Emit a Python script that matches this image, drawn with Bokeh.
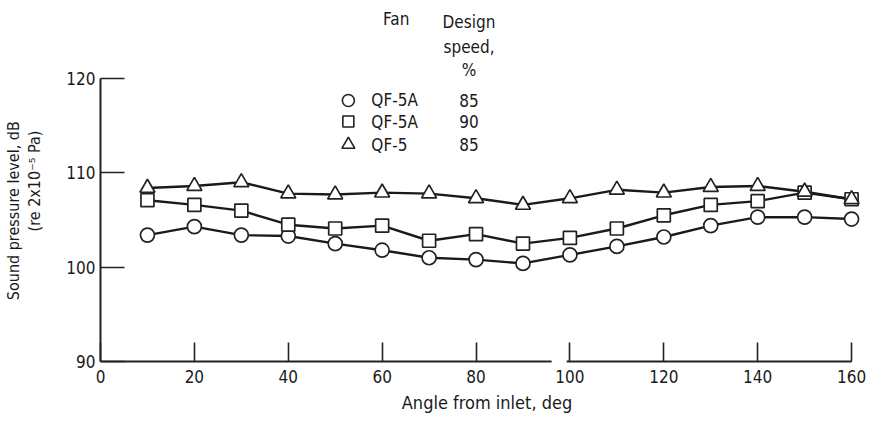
from bokeh.plotting import figure
from bokeh.models import FixedTicker, Label, Range1d, LinearAxis
from bokeh.embed import file_html
from bokeh.resources import INLINE

# ---- data ----
angles = [10, 20, 30, 40, 50, 60, 70, 80, 90, 100, 110, 120, 130, 140, 150, 160]
qf5a_85 = [103.4, 104.3, 103.4, 103.3, 102.5, 101.8, 101.0, 100.8,
           100.4, 101.3, 102.2, 103.2, 104.4, 105.3, 105.3, 105.1]
qf5a_90 = [107.1, 106.6, 106.0, 104.5, 104.1, 104.4, 102.8, 103.5,
           102.5, 103.1, 104.1, 105.5, 106.6, 107.0, 107.9, 107.2]
qf5_85 = [108.4, 108.6, 109.0, 107.8, 107.7, 107.9, 107.8, 107.3,
          106.6, 107.3, 108.2, 107.9, 108.5, 108.6, 108.0, 107.2]
x_ticks = [0, 20, 40, 60, 80, 100, 120, 140, 160]
y_ticks = [90, 100, 110, 120]
fans = ["QF-5A", "QF-5A", "QF-5"]
speeds = ["85", "90", "85"]
x_break = [96.1, 99.3]

FONT = "DejaVu Sans Condensed"
INK = "#222222"
TXT = "#1a1a1a"
NBSP = "\u00a0"

p = figure(width=873, height=421, x_range=Range1d(0, 164.67), y_range=Range1d(90, 128.27),
           output_backend="svg", toolbar_location=None,
           min_border_left=97, min_border_right=0, min_border_top=0, min_border_bottom=60)
p.outline_line_color = None
p.grid.visible = False

for ax in (p.xaxis[0], p.yaxis[0]):
    ax.axis_line_color = None
    ax.minor_tick_line_color = None
    ax.major_tick_out = 0
    ax.major_tick_line_color = INK
    ax.major_tick_line_width = 1.6
    ax.major_label_text_font = FONT
    ax.major_label_text_font_size = "17px"
    ax.major_label_text_color = TXT
    ax.axis_label_text_font = FONT
    ax.axis_label_text_font_style = "normal"
    ax.axis_label_text_color = TXT

p.xaxis.ticker = FixedTicker(ticks=x_ticks)
p.xaxis.major_tick_in = 19
p.xaxis.major_label_standoff = 8
p.xaxis.axis_label = "Angle from inlet, deg"
p.xaxis.axis_label_text_font_size = "18px"
p.xaxis.axis_label_standoff = 6

p.yaxis.ticker = FixedTicker(ticks=y_ticks)
p.yaxis.major_tick_in = 24
p.yaxis.major_label_standoff = 5
p.yaxis.axis_label = "(re 2x10\u207b\u2075 Pa)"
p.yaxis.axis_label_text_font_size = "16px"
p.yaxis.axis_label_standoff = 19

# outer line of the y-axis title; trailing non-breaking spaces shift it down along the axis
outer = LinearAxis(ticker=FixedTicker(ticks=[]), axis_line_color=None,
                   major_tick_line_color=None, minor_tick_line_color=None,
                   axis_label="Sound pressure level, dB" + NBSP * 13,
                   axis_label_text_font=FONT, axis_label_text_font_style="normal",
                   axis_label_text_font_size="16px", axis_label_text_color=TXT,
                   axis_label_standoff=0)
p.add_layout(outer, "left")

# axis lines (drawn unclipped)
p.segment(x0=[0], y0=[min(y_ticks)], x1=[0], y1=[max(y_ticks)],
          line_color=INK, line_width=2, level="annotation")
p.segment(x0=[0, x_break[1]], y0=[min(y_ticks)] * 2, x1=[x_break[0], max(x_ticks)],
          y1=[min(y_ticks)] * 2, line_color=INK, line_width=2, level="annotation")

# series
series = [(qf5a_85, "circle", 14), (qf5a_90, "square", 13), (qf5_85, "triangle", 15)]
for ys, _, _ in series:
    p.line(angles, ys, line_color=TXT, line_width=2.4)
for ys, mk, sz in series:
    p.scatter(angles, ys, marker=mk, size=sz, fill_color="white",
              line_color=INK, line_width=1.7)

# legend (manual, table-like)
lx_mark, lx_fan, lx_speed, lx_fanhead = 52.8, 57.7, 78.5, 63.0
row_y = [117.67, 115.44, 113.0]
for (ys, mk, sz), fan, spd, ry in zip(series, fans, speeds, row_y):
    p.scatter([lx_mark], [ry], marker=mk, size=sz - 2, fill_color="white",
              line_color=INK, line_width=1.6)
    p.add_layout(Label(x=lx_fan, y=ry, text=fan, text_align="left", text_baseline="middle",
                       text_font=FONT, text_font_size="17px", text_color=TXT))
    p.add_layout(Label(x=lx_speed, y=ry, text=spd, text_align="center", text_baseline="middle",
                       text_font=FONT, text_font_size="17px", text_color=TXT))

p.add_layout(Label(x=lx_fanhead, y=126.26, text="Fan", text_align="center", text_baseline="middle",
                   text_font=FONT, text_font_size="17px", text_color=TXT))
for txt, yy in zip(["Design", "speed,", "%"], [126.04, 123.39, 120.95]):
    p.add_layout(Label(x=lx_speed, y=yy, text=txt, text_align="center", text_baseline="middle",
                       text_font=FONT, text_font_size="17px", text_color=TXT))

open("out.html", "w").write(file_html(p, INLINE))
